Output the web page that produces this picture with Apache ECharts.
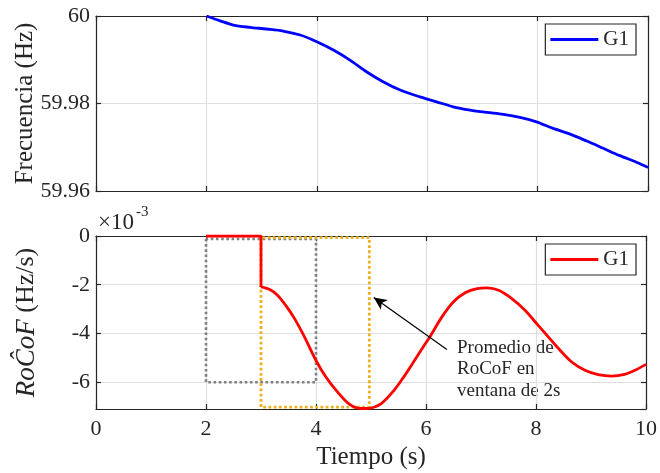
<!DOCTYPE html>
<html>
<head>
<meta charset="utf-8">
<script src="https://cdn.jsdelivr.net/npm/echarts@6/dist/echarts.min.js"></script>
<style>
html,body{margin:0;padding:0;background:#fff;}
#chart{width:660px;height:473px;}
</style>
</head>
<body>
<div id="chart"></div>
<script>
// frecuencia G1 (Hz)
var freqX = [2.0, 2.25, 2.49, 2.79, 3.09, 3.39, 3.70, 4.0, 4.30, 4.60, 4.90, 5.20, 5.51, 5.87, 6.17, 6.47, 6.78, 7.08, 7.38, 7.68, 7.98, 8.28, 8.59, 8.89, 9.19, 9.49, 9.80, 10.0];
var freqY = [60.0, 59.99890, 59.99794, 59.99741, 59.99703, 59.99657, 59.99565, 59.99412, 59.99222, 59.98993, 59.98725, 59.98497, 59.98307, 59.98150, 59.98039, 59.97925, 59.97849, 59.97796, 59.97750, 59.97682, 59.97581, 59.97430, 59.97300, 59.97142, 59.96975, 59.96808, 59.96652, 59.96538];

// RoCoF estimado (x10^-3 Hz/s)
var stepX = [2.0, 3.0, 3.0];
var stepY = [0, 0, -2.09];
var rocofX = [3.0, 3.15, 3.30, 3.45, 3.61, 3.79, 4.0, 4.18, 4.39, 4.60, 4.81, 4.96, 5.18, 5.42, 5.60, 5.75, 5.93, 6.08, 6.29, 6.50, 6.72, 6.93, 7.11, 7.32, 7.56, 7.80, 8.04, 8.20, 8.41, 8.65, 8.89, 9.13, 9.37, 9.61, 9.82, 10.0];
var rocofY = [-2.09, -2.19, -2.43, -2.85, -3.39, -4.14, -5.11, -5.79, -6.40, -6.89, -7.08, -7.07, -6.89, -6.33, -5.77, -5.25, -4.62, -4.10, -3.32, -2.70, -2.32, -2.16, -2.13, -2.23, -2.57, -3.05, -3.67, -4.08, -4.62, -5.17, -5.51, -5.69, -5.75, -5.68, -5.49, -5.27];

// ventanas de promedio (2 s)
var winGrayX = [2, 2, 4, 4, 2];
var winGrayY = [-0.12, -6.0, -6.0, -0.12, -0.12];
var winOrangeX = [3, 3, 4.97, 4.97, 3];
var winOrangeY = [-0.07, -7.02, -7.02, -0.07, -0.07];

var arrowFrom = [6.38, -4.66];
var arrowTo = [5.05, -2.52];

function pairs(xs, ys) { return xs.map(function (x, i) { return [x, ys[i]]; }); }

var FONT = 'Liberation Serif';
var INK = '#262626';
var GRIDC = '#dfdfdf';

function baseX(grid, pos, extra) {
  var a = {
    gridIndex: grid, type: 'value', position: pos, min: 0, max: 10, interval: 2,
    axisLine: { show: true, onZero: false, lineStyle: { color: INK, width: 1.2 } },
    axisTick: { show: true, inside: true, length: 5, lineStyle: { color: INK, width: 1.2 } },
    axisLabel: { show: false },
    splitLine: { show: false }
  };
  return Object.assign(a, extra || {});
}
function baseY(grid, pos, rng, extra) {
  var a = {
    gridIndex: grid, type: 'value', position: pos, min: rng[0], max: rng[1],
    axisLine: { show: true, onZero: false, lineStyle: { color: INK, width: 1.2 } },
    axisTick: { show: true, inside: true, length: 5, lineStyle: { color: INK, width: 1.2 } },
    axisLabel: { show: false },
    splitLine: { show: false }
  };
  return Object.assign(a, extra || {});
}

function legendFor(top, color) {
  return { right: 24, top: top, orient: 'vertical', padding: [5, 7, 5, 5],
    borderColor: INK, borderWidth: 1.2, backgroundColor: '#fff', borderRadius: 0,
    itemWidth: 48, itemHeight: 3, selectedMode: false,
    textStyle: { color: INK, fontFamily: FONT, fontSize: 21 },
    data: [{ name: 'G1', icon: 'rect', itemStyle: { color: color } }] };
}

var chart = echarts.init(document.getElementById('chart'));
chart.setOption({
  animation: false,
  backgroundColor: '#fff',
  grid: [
    { left: 96, right: 12, top: 16, height: 175 },
    { left: 96, right: 12, top: 236, height: 173 }
  ],
  xAxis: [
    baseX(0, 'bottom', { splitLine: { show: true, lineStyle: { color: GRIDC, width: 1.2 } } }),
    baseX(0, 'top'),
    baseX(1, 'bottom', {
      splitLine: { show: true, lineStyle: { color: GRIDC, width: 1.2 } },
      axisLabel: { show: true, color: INK, fontFamily: FONT, fontSize: 22, margin: 9 },
      name: 'Tiempo (s)', nameLocation: 'middle', nameGap: 36,
      nameTextStyle: { color: INK, fontFamily: FONT, fontSize: 25 }
    }),
    baseX(1, 'top')
  ],
  yAxis: [
    baseY(0, 'left', [59.96, 60], {
      interval: 0.02,
      splitLine: { show: true, lineStyle: { color: GRIDC, width: 1.2 } },
      axisLabel: { show: true, color: INK, fontFamily: FONT, fontSize: 22, margin: 6,
        formatter: function (v) { return Math.abs(v - 60) < 1e-9 ? '60' : v.toFixed(2); } },
      name: 'Frecuencia (Hz)', nameLocation: 'middle', nameGap: 58, nameMoveOverlap: false,
      nameTextStyle: { color: INK, fontFamily: FONT, fontSize: 25 }
    }),
    baseY(0, 'right', [59.96, 60], { interval: 0.02 }),
    baseY(1, 'left', [-7.1, 0], {
      splitNumber: 4,
      splitLine: { show: true, lineStyle: { color: GRIDC, width: 1.2 } },
      axisLabel: { show: true, showMinLabel: false, color: INK, fontFamily: FONT, fontSize: 22, margin: 6 },
      name: '{i|RoĈoF} {n|(Hz/s)}', nameLocation: 'middle', nameGap: 56, nameMoveOverlap: false,
      nameTextStyle: { color: INK, fontFamily: FONT, fontSize: 26,
        rich: { i: { fontStyle: 'italic', fontFamily: FONT, fontSize: 27, color: INK },
                n: { fontFamily: FONT, fontSize: 26, color: INK } } }
    }),
    baseY(1, 'right', [-7.1, 0], { splitNumber: 4 })
  ],
  legend: [legendFor(24, '#0000ff'), legendFor(244, '#ff0000')],
  series: [
    { name: 'G1', type: 'line', xAxisIndex: 0, yAxisIndex: 0, data: pairs(freqX, freqY),
      smooth: 0.3, showSymbol: false, symbol: 'none',
      lineStyle: { color: '#0000ff', width: 2.8 }, itemStyle: { color: '#0000ff' } },
    { name: 'ventana1', type: 'line', xAxisIndex: 2, yAxisIndex: 2, data: pairs(winGrayX, winGrayY),
      symbol: 'none', lineStyle: { color: '#808080', width: 2.6, type: [2.6, 2.6] }, z: 2 },
    { name: 'ventana2', type: 'line', xAxisIndex: 2, yAxisIndex: 2, data: pairs(winOrangeX, winOrangeY),
      symbol: 'none', lineStyle: { color: '#EDB120', width: 2.8, type: [2.8, 2.4] }, z: 2,
      markLine: { silent: true, symbol: ['none', 'arrow'], symbolSize: [9, 13], animation: false,
        label: { show: false }, lineStyle: { color: '#000', width: 1.2, type: 'solid' },
        data: [[{ coord: arrowFrom }, { coord: arrowTo }]] } },
    { name: 'G1', type: 'line', xAxisIndex: 2, yAxisIndex: 2, data: pairs(stepX, stepY),
      symbol: 'none', lineStyle: { color: '#ff0000', width: 2.8 }, itemStyle: { color: '#ff0000' }, z: 3 },
    { name: 'G1', type: 'line', xAxisIndex: 2, yAxisIndex: 2, data: pairs(rocofX, rocofY),
      smooth: 0.3, symbol: 'none', lineStyle: { color: '#ff0000', width: 2.8 }, itemStyle: { color: '#ff0000' }, z: 3 }
  ],
  graphic: [
    { type: 'text', left: 98, top: 211, style: { text: '×10', fill: INK, font: '23px "Liberation Serif"' } },
    { type: 'text', left: 136, top: 205, style: { text: '-3', fill: INK, font: '15px "Liberation Serif"' } },
    { type: 'text', left: 457, top: 337, style: { text: 'Promedio de\nRoCoF en\nventana de 2s', fill: INK,
      font: '19px "Liberation Serif"', lineHeight: 21.5 } }
  ]
});
</script>
</body>
</html>
